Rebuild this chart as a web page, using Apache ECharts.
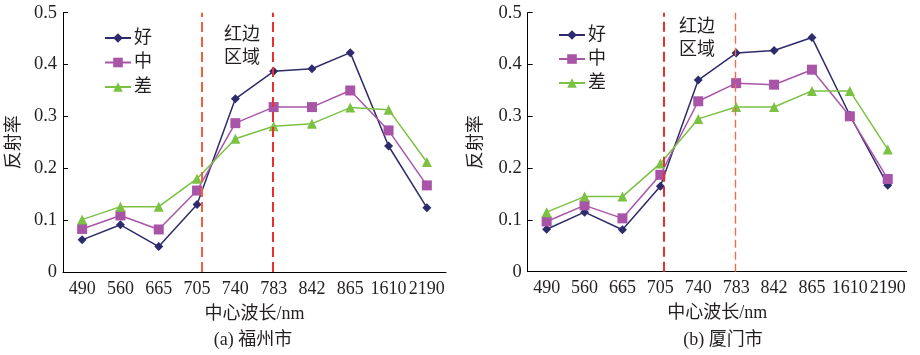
<!DOCTYPE html>
<html>
<head>
<meta charset="utf-8">
<script src="https://cdn.jsdelivr.net/npm/echarts@6/dist/echarts.min.js"></script>
<style>html,body{margin:0;padding:0;background:#fff}#c{width:920px;height:355px}</style>
</head>
<body>
<div id="c"></div>
<script>
const categories = ['490','560','665','705','740','783','842','865','1610','2190'];
const seriesNames = ['好','中','差'];
// 福州市
const fzGood = [0.062,0.091,0.049,0.130,0.334,0.387,0.392,0.423,0.243,0.124];
const fzMid  = [0.083,0.109,0.082,0.157,0.287,0.318,0.318,0.350,0.273,0.167];
const fzPoor = [0.101,0.126,0.126,0.180,0.257,0.281,0.286,0.317,0.313,0.212];
// 厦门市
const xmGood = [0.082,0.115,0.081,0.165,0.370,0.422,0.427,0.452,0.302,0.167];
const xmMid  = [0.097,0.128,0.103,0.187,0.329,0.364,0.361,0.390,0.300,0.179];
const xmPoor = [0.115,0.145,0.145,0.209,0.295,0.318,0.318,0.349,0.349,0.236];
// red-edge boundaries in category units (index 0 starts at 0)
const fzEdges = [3.62, 5.48];
const xmEdges = [3.60, 5.47];

const serif = '"Liberation Serif","Times New Roman",serif';
const cjk = '"Liberation Serif","Noto Sans CJK SC",serif';
const colors = ['#2d2b6b','#a855a8','#7bc142'];
const symbols = ['diamond','rect','triangle'];
const symSizes = [9, 10, 10];
const txt = '#231f20';

const chart = echarts.init(document.getElementById('c'), null, {renderer:'canvas'});

function xAxisCat(gi){
  return {type:'category', gridIndex:gi, data:categories, boundaryGap:true,
    axisLine:{lineStyle:{color:'#000',width:1}},
    axisTick:{inside:true,length:5,lineStyle:{color:'#000'}},
    axisLabel:{color:txt,fontFamily:serif,fontSize:18,margin:8,interval:0},
    name:'中心波长/nm', nameLocation:'middle', nameGap:33,
    nameTextStyle:{color:txt,fontFamily:cjk,fontSize:18}};
}
function xAxisVal(gi){
  return {type:'value', gridIndex:gi, min:0, max:10, show:false};
}
function yAxis(gi, gap){
  return {type:'value', gridIndex:gi, min:0, max:0.5, interval:0.1,
    axisLine:{show:true,lineStyle:{color:'#000',width:1}},
    axisTick:{show:true,inside:true,length:5,lineStyle:{color:'#000'}},
    splitLine:{show:false},
    axisLabel:{color:txt,fontFamily:serif,fontSize:18.5,margin:6,
      formatter:v=>v===0?'0':v.toFixed(1)},
    name:'反射率', nameLocation:'middle', nameGap:gap, nameRotate:90,
    nameTextStyle:{color:txt,fontFamily:cjk,fontSize:18}};
}
function lineSeries(gi, idx, data){
  return {type:'line', name:seriesNames[idx], xAxisIndex:gi, yAxisIndex:gi, data:data,
    symbol:symbols[idx], symbolSize:symSizes[idx], showSymbol:true,
    lineStyle:{color:colors[idx],width:1.5}, itemStyle:{color:colors[idx]},
    emphasis:{disabled:true}, animation:false, z:3};
}
function edgeSeries(axisIdx, gi, edges, styles){
  return {type:'line', xAxisIndex:axisIdx, yAxisIndex:gi, data:[], animation:false, silent:true,
    markLine:{symbol:'none', silent:true, label:{show:false}, animation:false,
      data: edges.map((e,i)=>[{coord:[e,0],lineStyle:styles[i]},{coord:[e,0.5]}])}};
}

chart.setOption({
  animation:false,
  backgroundColor:'#fff',
  grid:[
    {left:63, top:12.7, width:383, height:259.3},
    {left:527.7, top:12.7, width:379, height:259}
  ],
  xAxis:[xAxisCat(0), xAxisCat(1), xAxisVal(0), xAxisVal(1)],
  yAxis:[yAxis(0,40), yAxis(1,42)],
  legend:[
    {orient:'vertical', left:99, top:24, itemWidth:26, itemHeight:12, itemGap:6.5, selectedMode:false,
      data:seriesNames, textStyle:{color:txt,fontFamily:cjk,fontSize:18,lineHeight:18,padding:[0,0,0,-2]}},
    {orient:'vertical', left:553, top:21, itemWidth:26, itemHeight:12, itemGap:6, selectedMode:false,
      data:seriesNames, textStyle:{color:txt,fontFamily:cjk,fontSize:18,lineHeight:18,padding:[0,0,0,-2]}}
  ],
  graphic:[
    {type:'text', style:{text:'红边\n区域', x:242, y:22, align:'center', fill:txt, font:'18px "Noto Sans CJK SC"', lineHeight:23}},
    {type:'text', style:{text:'红边\n区域', x:697, y:14, align:'center', fill:txt, font:'18px "Noto Sans CJK SC"', lineHeight:23}},
    {type:'text', style:{text:'(a) 福州市', x:253, y:340, align:'center', verticalAlign:'middle', fill:txt, font:'18px "Liberation Serif","Noto Sans CJK SC"'}},
    {type:'text', style:{text:'(b) 厦门市', x:723, y:340, align:'center', verticalAlign:'middle', fill:txt, font:'18px "Liberation Serif","Noto Sans CJK SC"'}}
  ],
  series:[
    edgeSeries(2,0,fzEdges,[{color:'#f0603a',type:[10,5],width:2},{color:'#e8302f',type:[10,5],width:2}]),
    edgeSeries(3,1,xmEdges,[{color:'#e8302f',type:[10,5],width:2},{color:'#f26b4a',type:[8,4],width:1.4}]),
    lineSeries(0,0,fzGood), lineSeries(0,1,fzMid), lineSeries(0,2,fzPoor),
    lineSeries(1,0,xmGood), lineSeries(1,1,xmMid), lineSeries(1,2,xmPoor)
  ]
});
</script>
</body>
</html>
